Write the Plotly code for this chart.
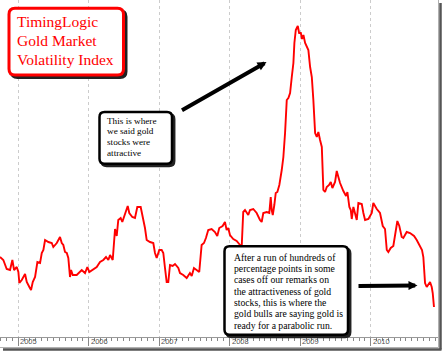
import pandas as pd
import plotly.graph_objects as go

# ---- data (decimal years, index level) ----
decimal_years = [
    2004.740, 2004.787, 2004.835, 2004.882, 2004.915, 2004.939, 2004.977, 2005.000, 2005.014, 2005.048,
    2005.095, 2005.119, 2005.156, 2005.180, 2005.204, 2005.237, 2005.270, 2005.308, 2005.332, 2005.355,
    2005.379, 2005.426, 2005.474, 2005.496, 2005.545, 2005.591, 2005.616, 2005.638, 2005.662, 2005.687,
    2005.709, 2005.733, 2005.748, 2005.772, 2005.828, 2005.899, 2005.946, 2005.979, 2006.007, 2006.064,
    2006.112, 2006.159, 2006.206, 2006.244, 2006.277, 2006.301, 2006.339, 2006.372, 2006.396, 2006.418,
    2006.452, 2006.475, 2006.499, 2006.523, 2006.552, 2006.574, 2006.617, 2006.655, 2006.688, 2006.736,
    2006.765, 2006.797, 2006.821, 2006.868, 2006.915, 2006.939, 2006.963, 2007.000, 2007.034, 2007.057,
    2007.081, 2007.105, 2007.128, 2007.152, 2007.190, 2007.223, 2007.270, 2007.294, 2007.340, 2007.389,
    2007.435, 2007.460, 2007.492, 2007.530, 2007.567, 2007.601, 2007.634, 2007.662, 2007.695, 2007.743,
    2007.790, 2007.823, 2007.851, 2007.899, 2007.932, 2007.956, 2007.979, 2008.003, 2008.050, 2008.098,
    2008.145, 2008.169, 2008.191, 2008.216, 2008.262, 2008.287, 2008.333, 2008.381, 2008.428, 2008.452,
    2008.475, 2008.523, 2008.560, 2008.580, 2008.594, 2008.609, 2008.631, 2008.651, 2008.674, 2008.702,
    2008.736, 2008.759, 2008.783, 2008.807, 2008.830, 2008.854, 2008.878, 2008.901, 2008.915, 2008.935,
    2008.949, 2008.963, 2008.982, 2009.006, 2009.024, 2009.043, 2009.067, 2009.091, 2009.113, 2009.138,
    2009.162, 2009.184, 2009.209, 2009.233, 2009.255, 2009.279, 2009.304, 2009.326, 2009.350, 2009.374,
    2009.407, 2009.431, 2009.454, 2009.492, 2009.516, 2009.539, 2009.563, 2009.610, 2009.648, 2009.667,
    2009.695, 2009.715, 2009.729, 2009.752, 2009.776, 2009.800, 2009.823, 2009.871, 2009.894, 2009.918,
    2009.965, 2010.013, 2010.035, 2010.084, 2010.130, 2010.169, 2010.201, 2010.226, 2010.248, 2010.282,
    2010.319, 2010.343, 2010.376, 2010.404, 2010.438, 2010.461, 2010.509, 2010.556, 2010.613, 2010.651,
    2010.684, 2010.726, 2010.745, 2010.769, 2010.793, 2010.840, 2010.864, 2010.878, 2010.896,
]

index_values = [
    80, 77, 68, 67, 77, 67, 70, 65, 54, 57,
    63, 55, 50, 47, 55, 60, 75, 74, 84, 87,
    97, 95, 94, 90, 94, 100, 94, 92, 85, 84,
    79, 60, 67, 62, 62, 67, 64, 70, 65, 68,
    70, 75, 77, 80, 77, 82, 77, 108, 101, 117,
    119, 115, 120, 125, 131, 124, 120, 119, 130, 130,
    120, 109, 97, 95, 94, 84, 79, 87, 87, 84,
    69, 55, 55, 72, 71, 73, 69, 64, 62, 59,
    64, 61, 69, 67, 65, 92, 94, 99, 107, 108,
    105, 101, 109, 111, 115, 107, 109, 102, 98, 96,
    92, 90, 125, 127, 122, 127, 128, 124, 117, 115,
    124, 125, 124, 140, 127, 122, 132, 144, 145, 152,
    167, 180, 204, 237, 239, 244, 260, 274, 294, 307,
    309, 311, 304, 304, 298, 302, 294, 290, 287, 270,
    260, 237, 204, 200, 205, 197, 190, 147, 145, 150,
    152, 155, 149, 155, 166, 160, 154, 146, 141, 145,
    130, 127, 118, 130, 122, 117, 134, 133, 124, 117,
    118, 124, 134, 128, 124, 111, 108, 87, 85, 89,
    91, 102, 116, 111, 100, 99, 105, 104, 101, 97,
    92, 87, 80, 54, 50, 55, 50, 44, 30,
]

year_labels = ["2005", "2006", "2007", "2008", "2009", "2010"]
x_range_years = [2004.740, 2010.953]
y_range = [0, 337]

title_lines = ["TimingLogic", "Gold Market", "Volatility Index"]
note1_lines = ["This is where", "we said gold", "stocks were", "attractive"]
note2_lines = [
    "After a run of hundreds of",
    "percentage points in some",
    "cases off our remarks on",
    "the attractiveness of gold",
    "stocks, this is where the",
    "gold bulls are saying gold is",
    "ready for a parabolic run.",
]


def to_date(t):
    y = int(t // 1)
    start = pd.Timestamp(year=y, month=1, day=1)
    end = pd.Timestamp(year=y + 1, month=1, day=1)
    return start + (end - start) * (t - y)


dates = [to_date(t) for t in decimal_years]
xr = [to_date(t) for t in x_range_years]

# ---- pixel helpers for decorations (plot area = 438 x 337 px) ----
W, H = 438.0, 337.0


def X(px):
    return px / W


def Y(py):
    return 1 - py / H


def rrect(x0, y0, x1, y1, r):
    return (f"M {X(x0 + r)},{Y(y0)} L {X(x1 - r)},{Y(y0)} Q {X(x1)},{Y(y0)} {X(x1)},{Y(y0 + r)} "
            f"L {X(x1)},{Y(y1 - r)} Q {X(x1)},{Y(y1)} {X(x1 - r)},{Y(y1)} "
            f"L {X(x0 + r)},{Y(y1)} Q {X(x0)},{Y(y1)} {X(x0)},{Y(y1 - r)} "
            f"L {X(x0)},{Y(y0 + r)} Q {X(x0)},{Y(y0)} {X(x0 + r)},{Y(y0)} Z")


fig = go.Figure()
fig.add_trace(go.Scatter(x=dates, y=index_values, mode="lines",
                         line=dict(color="#ff0000", width=1.9), hoverinfo="skip"))

shapes = []
# outer frame with shadow
shapes.append(dict(type="line", xref="paper", yref="paper", x0=X(440.5), x1=X(440.5), y0=Y(3), y1=Y(349.5),
                   line=dict(color="#555555", width=2.5)))
shapes.append(dict(type="line", xref="paper", yref="paper", x0=X(3), x1=X(441.5), y0=Y(349.5), y1=Y(349.5),
                   line=dict(color="#555555", width=2.5)))
shapes.append(dict(type="line", xref="paper", yref="paper", x0=X(438.5), x1=X(438.5), y0=Y(0), y1=Y(347.5),
                   line=dict(color="#b0b0b0", width=1)))
shapes.append(dict(type="line", xref="paper", yref="paper", x0=X(0), x1=X(438.5), y0=Y(347.5), y1=Y(347.5),
                   line=dict(color="#b0b0b0", width=1)))


def box(x0, y0, x1, y1, r, color, lw, off):
    shapes.append(dict(type="path", xref="paper", yref="paper",
                       path=rrect(x0 + off, y0 + off, x1 + off, y1 + off, r),
                       fillcolor="#222222", line=dict(color="#222222", width=lw)))
    shapes.append(dict(type="path", xref="paper", yref="paper",
                       path=rrect(x0, y0, x1, y1, r),
                       fillcolor="white", line=dict(color=color, width=lw)))


box(9, 8.2, 123.5, 75, 6, "#ff0000", 3, 2.5)
box(99.5, 112, 172, 163.7, 5, "black", 2.5, 2.2)
box(224.5, 246.2, 348, 334.8, 5, "black", 2.5, 2.2)

annotations = []


def text_lines(lines, left, first, step, size, color):
    for i, s in enumerate(lines):
        annotations.append(dict(xref="paper", yref="paper", x=X(left), y=Y(first + i * step),
                                xanchor="left", yanchor="middle", text=s, showarrow=False,
                                borderpad=0, font=dict(family="Liberation Serif, Times New Roman, serif",
                                                       size=size, color=color)))


text_lines(title_lines, 15.5, 21.7, 19.0, 15.5, "#ff0000")
text_lines(note1_lines, 105.5, 120.7, 10.7, 9.2, "black")
text_lines(note2_lines, 232.5, 257.3, 11.3, 9.7, "black")

# arrows
for tip, tail in [((266.5, 62.0), (180.5, 111.0)), ((417.5, 285.5), (357.0, 286.0))]:
    annotations.append(dict(xref="paper", yref="paper", x=X(tip[0]), y=Y(tip[1]),
                            ax=tail[0] - tip[0], ay=tail[1] - tip[1], text="", showarrow=True,
                            arrowhead=2, arrowwidth=4, arrowsize=0.45, arrowcolor="black"))

# year labels
for lab in year_labels:
    annotations.append(dict(xref="x", yref="paper", x=to_date(float(lab)), y=Y(341.8),
                            xanchor="left", yanchor="middle", xshift=1, text=lab, showarrow=False,
                            borderpad=0, font=dict(family="Liberation Sans, Arial, sans-serif",
                                                   size=7.5, color="#555555")))

fig.update_layout(
    width=443, height=352,
    margin=dict(l=0, r=5, t=0, b=15),
    paper_bgcolor="white", plot_bgcolor="white",
    showlegend=False,
    shapes=shapes, annotations=annotations,
    xaxis=dict(type="date", range=xr, showgrid=True, gridcolor="#cccccc", griddash="dot", gridwidth=1,
               tick0="2005-01-01", dtick="M12", ticks="outside", ticklen=8, tickcolor="#888888",
               showticklabels=False, showline=True, linecolor="#999999", linewidth=1, zeroline=False,
               minor=dict(dtick="M1", tick0="2005-01-01", ticks="outside", ticklen=3,
                          tickcolor="#888888", showgrid=False)),
    yaxis=dict(range=y_range, showgrid=False, showticklabels=False, zeroline=False, showline=False,
               ticks=""),
)

fig.write_html("out.html")
